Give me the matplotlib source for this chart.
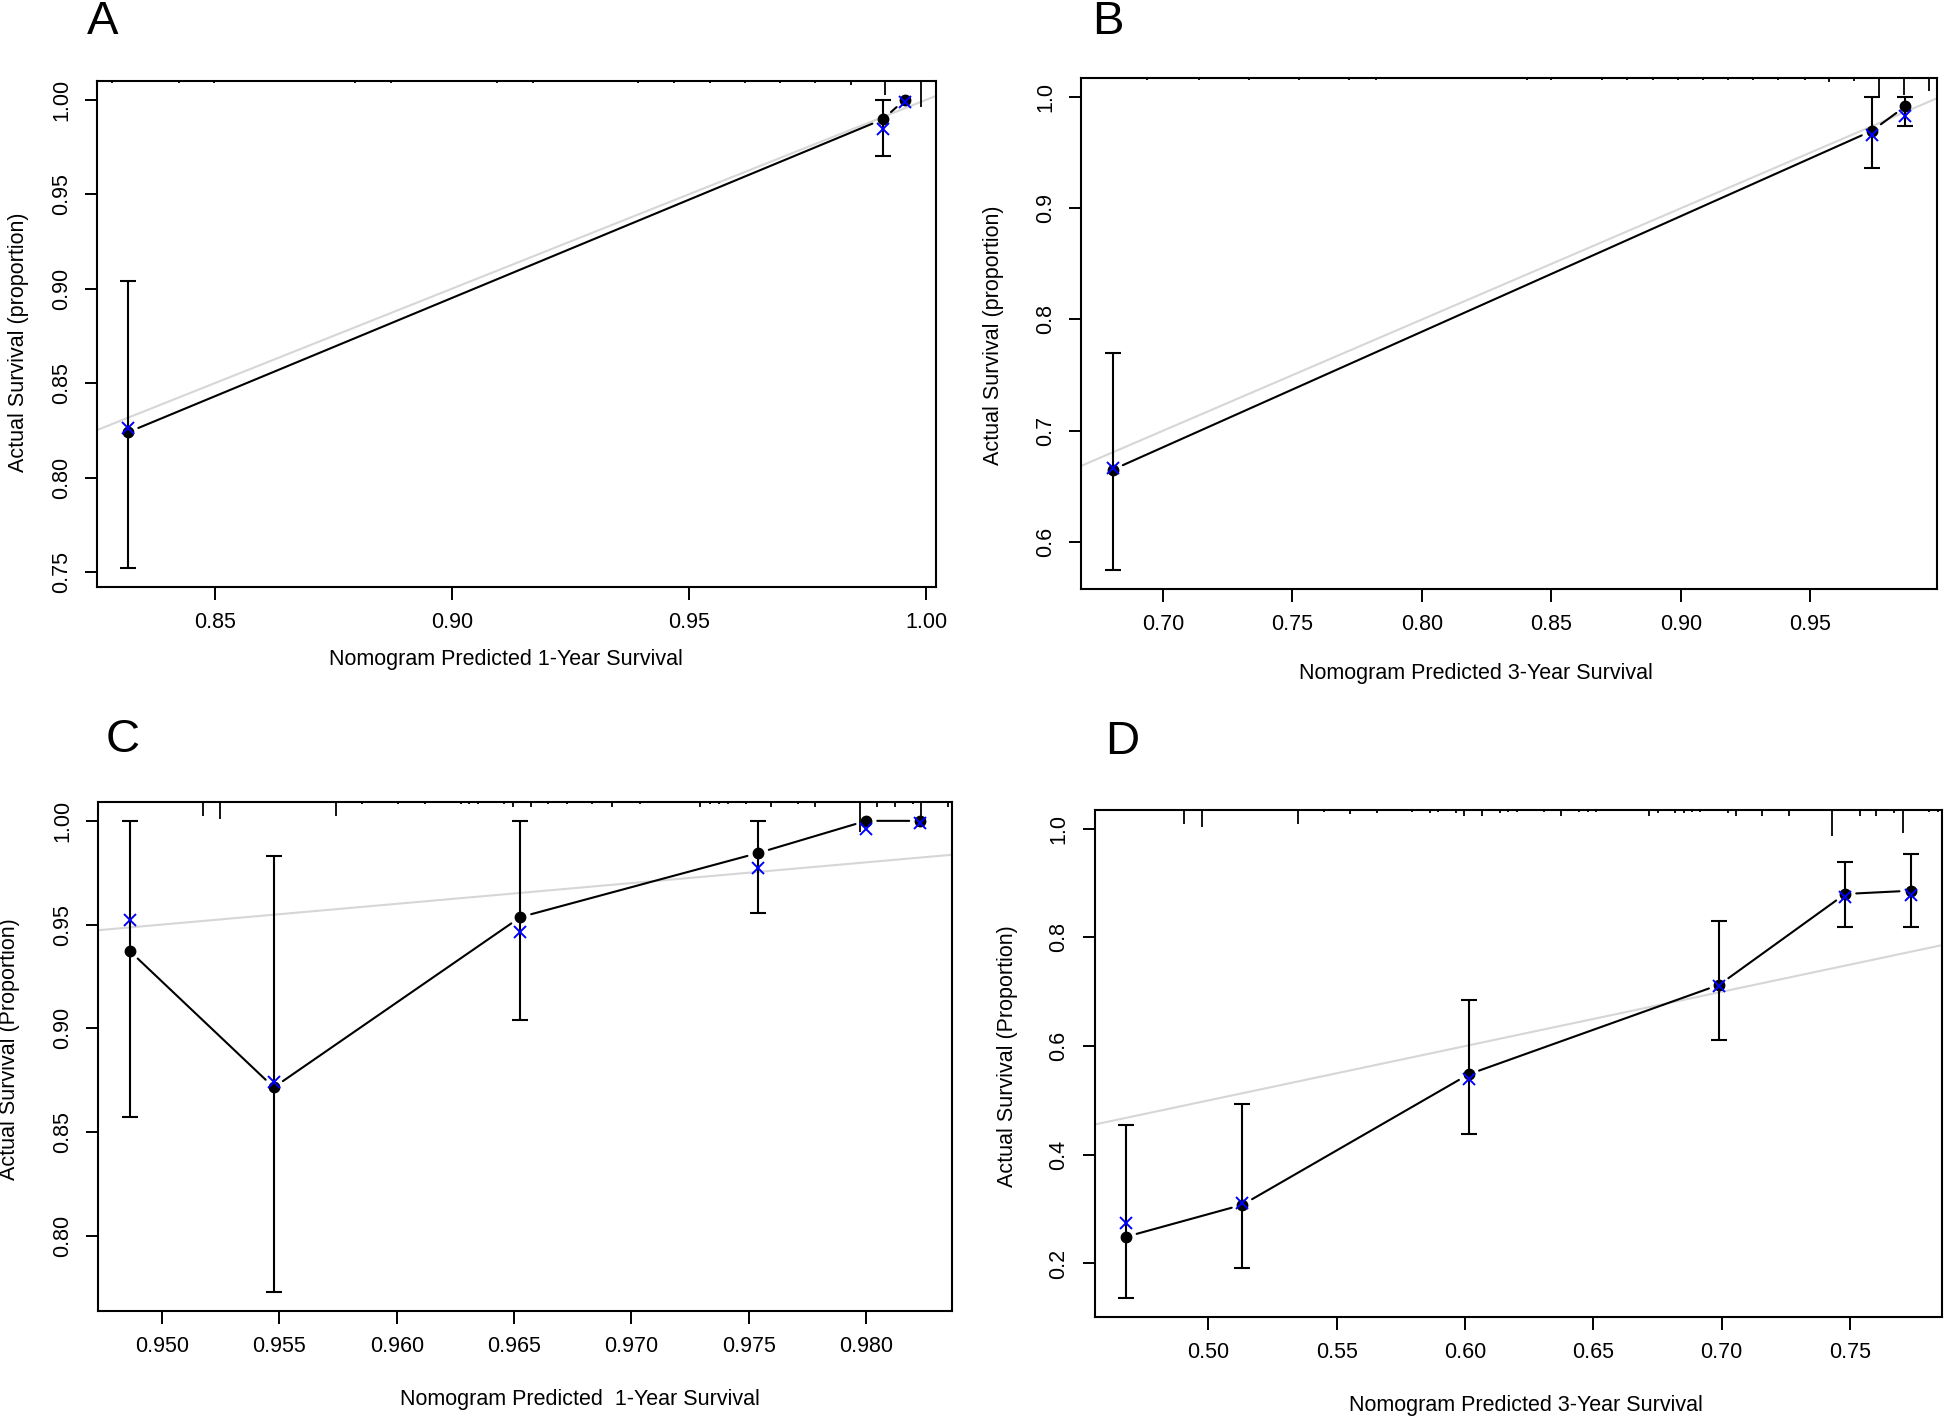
import matplotlib

matplotlib.use("Agg")
import matplotlib.pyplot as plt
import numpy as np
from matplotlib import font_manager
from matplotlib.ticker import FixedLocator, FormatStrFormatter

W, H = 1946, 1418
DPI = 100

_installed = {f.name for f in font_manager.fontManager.ttflist}
NARROW = "Liberation Sans Narrow" in _installed
plt.rcParams["font.family"] = ["Liberation Sans Narrow", "Liberation Sans", "DejaVu Sans"]
TICK_FS = 18 if NARROW else 15.5
LABEL_FS = 18 if NARROW else 15.5
LETTER_FS = 40 if NARROW else 34

# ---- panel A: 1-year
a_pred = [0.8317, 0.9908, 0.9955]
a_obs = [0.824, 0.9896, 1.000]
a_lo = [0.752, 0.9703, 1.000]
a_hi = [0.9038, 1.000, 1.000]
a_corr = [0.8264, 0.9843, 0.9986]
a_rug_x = [0.8283, 0.8424, 0.8499, 0.8796, 0.8872, 0.9095, 0.9170, 0.9393,
           0.9468, 0.9544, 0.9617, 0.9692, 0.9766, 0.9841, 0.9914, 0.9988]
a_rug_n = [2, 2, 2, 2, 2, 2, 2, 2, 2, 2, 2, 2, 2, 4, 14, 26]
a_xticks = [0.85, 0.90, 0.95, 1.00]
a_yticks = [0.75, 0.80, 0.85, 0.90, 0.95, 1.00]

# ---- panel B: 3-year
b_pred = [0.6806, 0.9737, 0.9866]
b_obs = [0.665, 0.9695, 0.9915]
b_lo = [0.5748, 0.9362, 0.9736]
b_hi = [0.7703, 1.000, 1.000]
b_corr = [0.6667, 0.9659, 0.9829]
b_rug_x = [0.6940, 0.7138, 0.7332, 0.7526, 0.7720, 0.7821, 0.8404, 0.8500,
           0.8694, 0.8791, 0.8892, 0.8989, 0.9086, 0.9183, 0.9279, 0.9376,
           0.9477, 0.9571, 0.9668, 0.9765, 0.9862, 0.9958]
b_rug_n = [2, 2, 2, 2, 2, 2, 2, 2, 2, 2, 2, 2, 2, 2, 2, 2, 2, 4, 3, 20, 17, 13]
b_xticks = [0.70, 0.75, 0.80, 0.85, 0.90, 0.95]
b_yticks = [0.6, 0.7, 0.8, 0.9, 1.0]

# ---- panel C: 1-year (validation)
c_pred = [0.94862, 0.95476, 0.96527, 0.9754, 0.9800, 0.98231]
c_obs = [0.9373, 0.8715, 0.9536, 0.9845, 1.000, 1.000]
c_lo = [0.8571, 0.7728, 0.9039, 0.9558, 1.000, 1.000]
c_hi = [1.000, 0.983, 1.000, 1.000, 1.000, 1.000]
c_corr = [0.9521, 0.8741, 0.9464, 0.9771, 0.9961, 0.9989]
c_rug_x = [0.95176, 0.95247, 0.95742, 0.95853, 0.96005, 0.96120, 0.96274,
           0.96310, 0.96346, 0.96457, 0.96495, 0.96571, 0.96643, 0.96726,
           0.96833, 0.96916, 0.97035, 0.97292, 0.97333, 0.97373, 0.97411,
           0.97487, 0.97594, 0.97708, 0.97784, 0.97974, 0.98045, 0.98122,
           0.98200, 0.98235, 0.98348]
c_rug_n = [14, 17, 14, 2, 2, 2, 2, 2, 2, 2, 5, 5, 2, 2, 2, 5, 2, 5, 2, 2, 2,
           2, 5, 2, 5, 30, 5, 5, 2, 20, 5]
c_xticks = [0.950, 0.955, 0.960, 0.965, 0.970, 0.975, 0.980]
c_yticks = [0.80, 0.85, 0.90, 0.95, 1.00]

# ---- panel D: 3-year (validation)
d_pred = [0.4679, 0.5133, 0.6014, 0.6991, 0.7481, 0.7736]
d_obs = [0.249, 0.308, 0.548, 0.713, 0.880, 0.886]
d_lo = [0.136, 0.192, 0.439, 0.611, 0.820, 0.819]
d_hi = [0.455, 0.493, 0.684, 0.831, 0.939, 0.954]
d_corr = [0.274, 0.312, 0.540, 0.711, 0.875, 0.879]
d_rug_x = [0.4906, 0.4975, 0.5351, 0.5451, 0.5554, 0.5657, 0.5793, 0.5862,
           0.5896, 0.5965, 0.5997, 0.6065, 0.6136, 0.6168, 0.6204, 0.6307,
           0.6375, 0.6446, 0.6478, 0.6510, 0.6718, 0.6752, 0.6820, 0.6852,
           0.6884, 0.6916, 0.7024, 0.7055, 0.7158, 0.7263, 0.7430, 0.7537,
           0.7603, 0.7671, 0.7708, 0.7808, 0.7843]
d_rug_n = [14, 17, 14, 2, 4, 3, 2, 3, 2, 3, 6, 6, 3, 2, 2, 2, 6, 2, 2, 2, 6,
           3, 3, 3, 2, 2, 3, 6, 6, 6, 26, 6, 6, 3, 23, 2, 2]
d_xticks = [0.50, 0.55, 0.60, 0.65, 0.70, 0.75]
d_yticks = [0.2, 0.4, 0.6, 0.8, 1.0]

# layout in pixels: axes box (left, top, right, bottom), xlabel centre, ylabel centre, letter centre
PANELS = [
    dict(key="A", box=(97, 81, 936, 587), xlab=(506, 660), ylab=(19, 342), letter=(103, 22),
         pred=a_pred, obs=a_obs, lo=a_lo, hi=a_hi, corr=a_corr, rug_x=a_rug_x, rug_n=a_rug_n,
         xticks=a_xticks, yticks=a_yticks, xfmt="%.2f", yfmt="%.2f",
         xlabel="Nomogram Predicted 1-Year Survival", ylabel="Actual Survival (proportion)"),
    dict(key="B", box=(1081, 78, 1937, 589), xlab=(1476, 674), ylab=(993, 335), letter=(1108, 22),
         pred=b_pred, obs=b_obs, lo=b_lo, hi=b_hi, corr=b_corr, rug_x=b_rug_x, rug_n=b_rug_n,
         xticks=b_xticks, yticks=b_yticks, xfmt="%.2f", yfmt="%.1f",
         xlabel="Nomogram Predicted 3-Year Survival", ylabel="Actual Survival (proportion)"),
    dict(key="C", box=(98, 802, 952, 1311), xlab=(580, 1399), ylab=(10, 1049), letter=(123, 740),
         pred=c_pred, obs=c_obs, lo=c_lo, hi=c_hi, corr=c_corr, rug_x=c_rug_x, rug_n=c_rug_n,
         xticks=c_xticks, yticks=c_yticks, xfmt="%.3f", yfmt="%.2f",
         xlabel="Nomogram Predicted  1-Year Survival", ylabel="Actual Survival (Proportion)"),
    dict(key="D", box=(1094.5, 810, 1942, 1317), xlab=(1526, 1405), ylab=(1008, 1056), letter=(1122, 742),
         pred=d_pred, obs=d_obs, lo=d_lo, hi=d_hi, corr=d_corr, rug_x=d_rug_x, rug_n=d_rug_n,
         xticks=d_xticks, yticks=d_yticks, xfmt="%.2f", yfmt="%.1f",
         xlabel="Nomogram Predicted 3-Year Survival", ylabel="Actual Survival (Proportion)"),
]


def padded(lo, hi, frac=0.04):
    d = (hi - lo) * frac
    return lo - d, hi + d


def draw_panel(fig, p):
    left, top, right, bottom = p["box"]
    ax = fig.add_axes([left / W, 1 - bottom / H, (right - left) / W, (bottom - top) / H])
    box_h = bottom - top

    pred, obs = np.array(p["pred"]), np.array(p["obs"])
    lo, hi = np.array(p["lo"]), np.array(p["hi"])
    ax.set_xlim(*padded(pred.min(), pred.max()))
    ax.set_ylim(*padded(lo.min(), max(hi.max(), 1.0)))

    # ideal line
    ax.axline((0, 0), slope=1, color="#d6d6d6", lw=1.5, zorder=1)

    # observed curve, R type="b" (gaps around points)
    for i in range(len(pred) - 1):
        ax.annotate("", xy=(pred[i + 1], obs[i + 1]), xytext=(pred[i], obs[i]),
                    arrowprops=dict(arrowstyle="-", color="black", lw=1.5,
                                    shrinkA=8, shrinkB=8), zorder=2)

    for x, y, l, h in zip(pred, obs, lo, hi):
        if h - l > 1e-9:
            ax.errorbar(x, y, yerr=[[y - l], [h - y]], fmt="none", ecolor="black",
                        elinewidth=1.5, capsize=5.5, capthick=1.5, zorder=3)

    ax.plot(pred, obs, "o", color="black", ms=7.5, zorder=4)
    ax.plot(pred, p["corr"], "x", color="#0000ff", ms=9, mew=1.4, zorder=5)

    # rug of predicted values along the top
    spikes = np.array(p["rug_n"]) / box_h
    ax.vlines(p["rug_x"], 1, 1 - spikes, transform=ax.get_xaxis_transform(),
              color="black", lw=1.3, zorder=3)

    ax.xaxis.set_major_locator(FixedLocator(p["xticks"]))
    ax.yaxis.set_major_locator(FixedLocator(p["yticks"]))
    ax.xaxis.set_major_formatter(FormatStrFormatter(p["xfmt"]))
    ax.yaxis.set_major_formatter(FormatStrFormatter(p["yfmt"]))
    ax.tick_params(length=9, width=1.4, pad=9, labelsize=TICK_FS, color="black")
    for lab in ax.get_yticklabels():
        lab.set_rotation(90)
        lab.set_va("center")
    for s in ax.spines.values():
        s.set_linewidth(1.5)

    ax.set_xlabel(p["xlabel"], fontsize=LABEL_FS, va="center")
    ax.set_ylabel(p["ylabel"], fontsize=LABEL_FS, va="center")
    xl_x, xl_y = p["xlab"]
    yl_x, yl_y = p["ylab"]
    ax.xaxis.set_label_coords((xl_x - left) / (right - left), (bottom - xl_y) / box_h)
    ax.yaxis.set_label_coords((yl_x - left) / (right - left), (bottom - yl_y) / box_h)

    lx, ly = p["letter"]
    fig.text(lx / W, 1 - ly / H, p["key"], fontsize=LETTER_FS, ha="center", va="center")


fig = plt.figure(figsize=(W / DPI, H / DPI), dpi=DPI)
for panel in PANELS:
    draw_panel(fig, panel)
fig.savefig("out.png", dpi=DPI)
